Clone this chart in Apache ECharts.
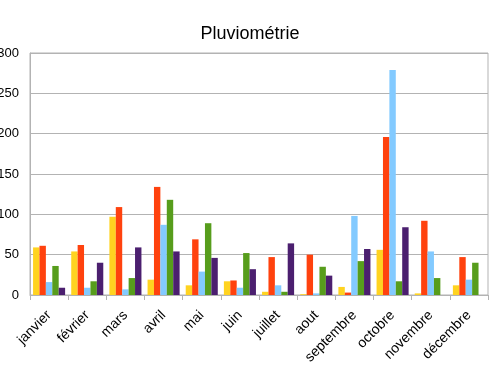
<!DOCTYPE html>
<html><head><meta charset="utf-8">
<script src="https://cdn.jsdelivr.net/npm/echarts@6/dist/echarts.min.js"></script>
<style>html,body{margin:0;padding:0;background:#fff}#c{width:500px;height:380px}</style>
</head><body><div id="c"></div>
<script>
const categories = ["janvier","février","mars","avril","mai","juin","juillet","aout","septembre","octobre","novembre","décembre"];
const serieA = [59, 54, 97, 19, 12, 17, 4, 1, 10, 56, 2, 12];
const serieB = [61, 62, 109, 134, 69, 18, 47, 50, 3, 196, 92, 47];
const serieC = [16, 9, 7, 87, 29, 9, 12, 2, 98, 279, 54, 19];
const serieD = [36, 17, 21, 118, 89, 52, 4, 35, 42, 17, 21, 40];
const serieE = [9, 40, 59, 54, 46, 32, 64, 24, 57, 84, 0, 0];
const yTicks = [0, 50, 100, 150, 200, 250, 300];

const colors = ['#ffd320','#ff420e','#83caff','#579d1c','#4b1f6f'];
const chart = echarts.init(document.getElementById('c'), null, {renderer:'canvas'});
const mk = (d, i) => ({type:'bar', data:d, barGap:'0%', barCategoryGap:'16%', itemStyle:{color:colors[i]}, animation:false});
chart.setOption({
  animation:false,
  title:{text:'Pluviométrie', left:'center', top:20, textStyle:{fontFamily:'Liberation Sans', fontSize:18, fontWeight:'normal', color:'#000'}},
  grid:{left:30, right:12, top:53, bottom:85, show:true, borderColor:'#b3b3b3', borderWidth:1, containLabel:false, outerBoundsMode:'none'},
  xAxis:{type:'category', data:categories,
    axisLine:{lineStyle:{color:'#b3b3b3'}},
    axisTick:{show:true, alignWithLabel:false, length:5, lineStyle:{color:'#b3b3b3'}},
    axisLabel:{rotate:45, margin:18, fontFamily:'Liberation Sans', fontSize:14, color:'#000', interval:0}},
  yAxis:{type:'value', min:yTicks[0], max:yTicks[yTicks.length-1], interval:50,
    axisLine:{show:true, lineStyle:{color:'#b3b3b3'}},
    axisTick:{show:false},
    splitLine:{lineStyle:{color:'#b3b3b3'}},
    axisLabel:{margin:11, fontFamily:'Liberation Sans', fontSize:13, color:'#000'}},
  series:[mk(serieA,0), mk(serieB,1), mk(serieC,2), mk(serieD,3), mk(serieE,4)]
});
</script></body></html>
